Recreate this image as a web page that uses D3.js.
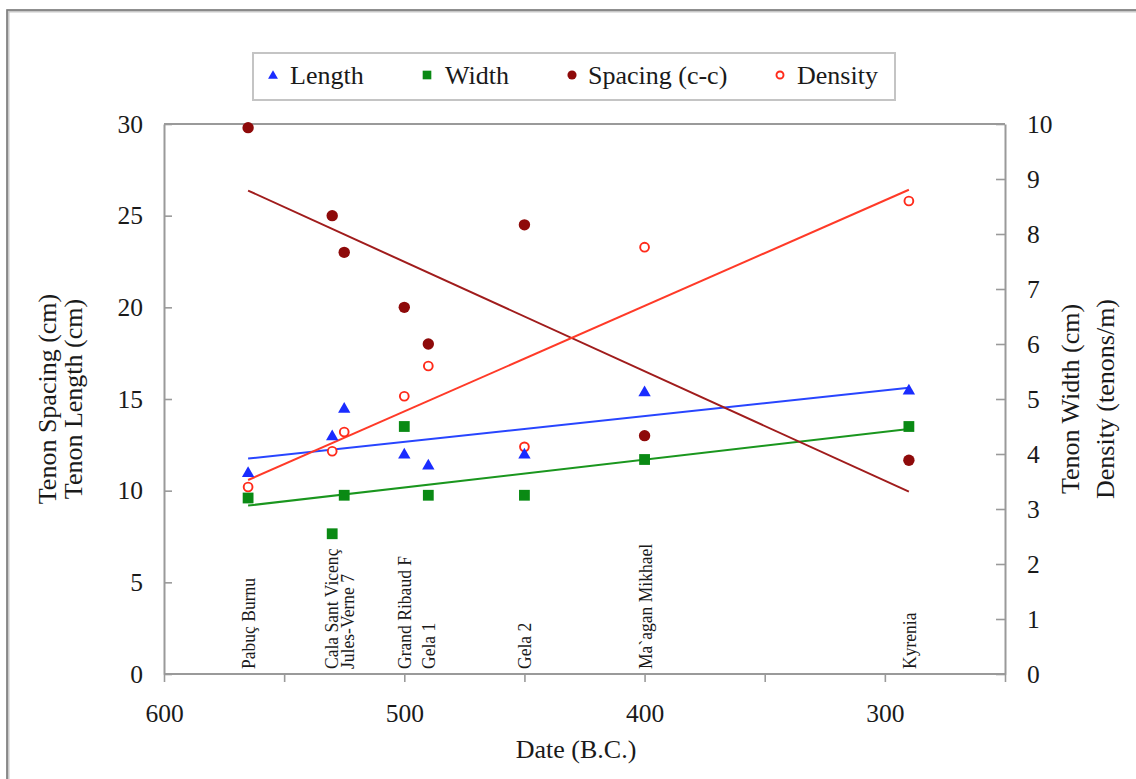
<!DOCTYPE html>
<html>
<head>
<meta charset="utf-8">
<script src="https://cdn.jsdelivr.net/npm/d3@7/dist/d3.min.js"></script>
<style>
  html, body { margin: 0; padding: 0; background: #fff; }
  svg { display: block; }
  text { font-family: "Liberation Serif", "Times New Roman", "DejaVu Serif", serif; fill: #1a1a1a; }
</style>
</head>
<body>
<svg id="chart" width="1136" height="779"></svg>
<script>
// ---- data ----
const sites = ["Pabuç Burnu", "Cala Sant Vicenç", "Jules-Verne 7", "Grand Ribaud F", "Gela 1", "Gela 2", "Ma`agan Mikhael", "Kyrenia"];
const dates = [565, 530, 525, 500, 490, 450, 400, 290];
const lengthCm = [11.0, 13.0, 14.5, 12.0, 11.4, 12.0, 15.4, 15.5];
const widthCm = [3.2, 2.55, 3.25, 4.5, 3.25, 3.25, 3.9, 4.5];
const spacingCm = [29.8, 25.0, 23.0, 20.0, 18.0, 24.5, 13.0, 11.66];
const density = [3.4, 4.05, 4.4, 5.05, 5.6, 4.13, 7.76, 8.6];
const leftTicks = [0, 5, 10, 15, 20, 25, 30];
const rightTicks = [0, 1, 2, 3, 4, 5, 6, 7, 8, 9, 10];
const xTickLabels = [600, 500, 400, 300];
const xTicksAll = [600, 550, 500, 450, 400, 350, 300, 250];

// ---- layout ----
const svg = d3.select("#chart");
const L = 164, R = 1005, T = 124, B = 674;
const x = d3.scaleLinear().domain([600, 250]).range([L, R]);
const yL = d3.scaleLinear().domain([0, 30]).range([B, T]);
const yR = d3.scaleLinear().domain([0, 10]).range([B, T]);
const axisGrey = "#9a9a9a";

// outer frame
svg.append("rect").attr("x", 8).attr("y", 11).attr("width", 1160).attr("height", 800)
  .attr("fill", "none").attr("stroke", "#c8c8c8").attr("stroke-width", 3);
svg.append("rect").attr("x", 7).attr("y", 10).attr("width", 1160).attr("height", 800)
  .attr("fill", "none").attr("stroke", "#7a7a7a").attr("stroke-width", 1.6);

// plot frame
const frame = svg.append("g").attr("stroke", axisGrey).attr("stroke-width", 2).attr("fill", "none");
frame.append("line").attr("x1", L).attr("x2", R).attr("y1", T).attr("y2", T);

// axes
const fontSize = "25.5px";
const gx = svg.append("g").attr("transform", `translate(0,${B})`)
  .call(d3.axisBottom(x).tickValues(xTicksAll).tickSize(8).tickSizeOuter(0)
    .tickFormat(d => xTickLabels.includes(d) ? d : ""));
gx.selectAll("text").attr("dy", "1.45em");
const gl = svg.append("g").attr("transform", `translate(${L},0)`)
  .call(d3.axisLeft(yL).tickValues(leftTicks).tickSize(-8).tickSizeOuter(0).tickPadding(21));
const gr = svg.append("g").attr("transform", `translate(${R},0)`)
  .call(d3.axisRight(yR).tickValues(rightTicks).tickSize(-9).tickSizeOuter(0).tickPadding(22));
[gx, gl, gr].forEach(g => {
  g.select(".domain").attr("stroke", axisGrey).attr("stroke-width", 2);
  g.selectAll(".tick line").attr("stroke", axisGrey).attr("stroke-width", 1.6);
  g.selectAll("text").style("font-family", '"Liberation Serif", "Times New Roman", serif')
    .style("font-size", fontSize).attr("fill", "#1a1a1a");
});
gx.select(".domain").attr("d", `M${L},0H${R}`);

// axis titles
const titleSize = "26px";
svg.append("text").attr("transform", "translate(56,399) rotate(-90)").attr("text-anchor", "middle")
  .style("font-size", titleSize).text("Tenon Spacing (cm)");
svg.append("text").attr("transform", "translate(82,399) rotate(-90)").attr("text-anchor", "middle")
  .style("font-size", titleSize).text("Tenon Length (cm)");
svg.append("text").attr("transform", "translate(1079,399) rotate(-90)").attr("text-anchor", "middle")
  .style("font-size", titleSize).text("Tenon Width (cm)");
svg.append("text").attr("transform", "translate(1114,399) rotate(-90)").attr("text-anchor", "middle")
  .style("font-size", titleSize).text("Density (tenons/m)");
svg.append("text").attr("x", 576).attr("y", 758).attr("text-anchor", "middle")
  .style("font-size", titleSize).text("Date (B.C.)");

// site labels (vertical), small nudges so the two close labels separate
const labelNudge = [0, -1.5, 3, 0, 0, 0, 0, 0];
svg.append("g").selectAll("text").data(sites).join("text")
  .attr("transform", (d, i) => `translate(${x(dates[i]) + labelNudge[i]},669) rotate(-90) scale(0.9,1)`)
  .attr("dy", "0.36em").attr("text-anchor", "start")
  .style("font-size", "19.5px").text(d => d);

// regression
function fit(xs, ys) {
  const mx = d3.mean(xs), my = d3.mean(ys);
  let sxy = 0, sxx = 0;
  xs.forEach((v, i) => { sxy += (v - mx) * (ys[i] - my); sxx += (v - mx) * (v - mx); });
  const b = sxy / sxx;
  return v => my + b * (v - mx);
}
const xEnds = [d3.max(dates), d3.min(dates)];
const series = [
  { name: "Length", vals: lengthCm, y: yL, color: "#1a2cff", line: "#2845ff", sym: "tri" },
  { name: "Width", vals: widthCm, y: yR, color: "#0a8a14", line: "#1a961e", sym: "sq" },
  { name: "Spacing (c-c)", vals: spacingCm, y: yL, color: "#8e0a0a", line: "#a01c1c", sym: "dot" },
  { name: "Density", vals: density, y: yR, color: "#ff2a1a", line: "#ff3a28", sym: "ring" }
];

// trend lines
series.forEach(s => {
  const f = fit(dates, s.vals);
  svg.append("line")
    .attr("x1", x(xEnds[0])).attr("y1", s.y(f(xEnds[0])))
    .attr("x2", x(xEnds[1])).attr("y2", s.y(f(xEnds[1])))
    .attr("stroke", s.line).attr("stroke-width", 2);
});

function drawSym(g, sym, color, cx, cy, k) {
  if (sym === "tri") {
    g.append("path").attr("d", d3.symbol(d3.symbolTriangle, 66 * k * k)())
      .attr("transform", `translate(${cx},${cy + 1})`).attr("fill", color);
  } else if (sym === "sq") {
    const h = 5.4 * k;
    g.append("rect").attr("x", cx - h).attr("y", cy - h).attr("width", 2 * h).attr("height", 2 * h).attr("fill", color);
  } else if (sym === "dot") {
    g.append("circle").attr("cx", cx).attr("cy", cy).attr("r", 5.7 * k).attr("fill", color);
  } else {
    g.append("circle").attr("cx", cx).attr("cy", cy).attr("r", 4.4 * k).attr("fill", "#fff")
      .attr("stroke", color).attr("stroke-width", 1.9);
  }
}

// markers (length drawn last, on top)
[3, 2, 1, 0].forEach(si => {
  const s = series[si];
  const g = svg.append("g");
  s.vals.forEach((v, i) => drawSym(g, s.sym, s.color, x(dates[i]), s.y(v), 1));
});

// legend
const lg = svg.append("g");
lg.append("rect").attr("x", 253).attr("y", 53).attr("width", 642).attr("height", 47)
  .attr("fill", "#fff").attr("stroke", "#c4c4c4").attr("stroke-width", 2);
const legendPos = [{ m: 273, t: 290 }, { m: 427, t: 445 }, { m: 572, t: 588 }, { m: 780, t: 797 }];
series.forEach((s, i) => {
  drawSym(lg, s.sym, s.color, legendPos[i].m, 75, 0.8);
  lg.append("text").attr("x", legendPos[i].t).attr("y", 84).style("font-size", "26px").text(s.name);
});
</script>
</body>
</html>
